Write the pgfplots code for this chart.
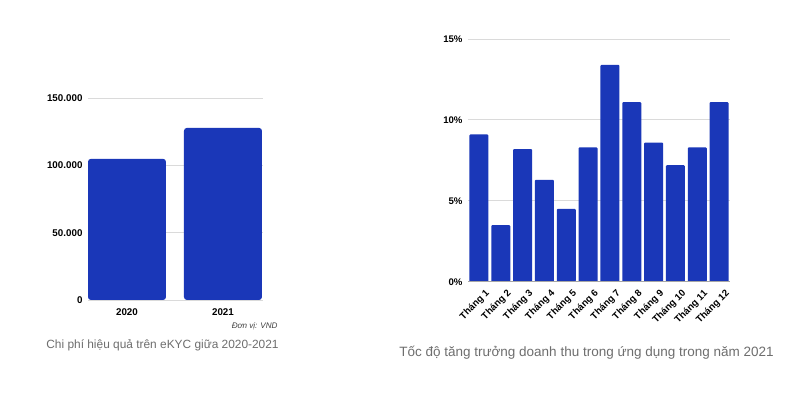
\documentclass[border=0pt]{standalone}
\usepackage{pgfplots}
\pgfplotsset{compat=1.18}
\usepackage{fontspec}
\setmainfont{Liberation Sans}
\definecolor{barblue}{HTML}{1A37B8}
\definecolor{gridgray}{HTML}{DADADA}
\definecolor{capgray}{HTML}{6E6E6E}
\begin{document}
\begin{tikzpicture}
\useasboundingbox (0pt,0pt) rectangle (810pt,398pt);
\fill[white] (0pt,0pt) rectangle (810pt,398pt);
% left chart
\begin{axis}[
  at={(88pt,98pt)}, anchor=south west,
  scale only axis, width=175pt, height=201.7pt,
  xmin=-0.406, xmax=1.417, ymin=0, ymax=150000,
  xtick={0,1}, xticklabels={2020,2021},
  ytick={0,50000,100000,150000},
  yticklabels={0,50.000,100.000,150.000},
  ymajorgrids, grid style={gridgray, line width=0.8pt},
  axis line style={draw=none}, major tick length=0pt,
  tick label style={font=\fontsize{9.8}{11}\selectfont\bfseries, text=black},
  yticklabel style={xshift=-2pt},
  xticklabel style={yshift=-5.5pt},
  scaled y ticks=false,
]
\addplot[ybar, bar width=78pt, fill=barblue, draw=none, rounded corners=3pt] coordinates {(0,105000) (1,128000)};
\draw[gray, line width=0.8pt] (axis cs:-0.406,0) -- (axis cs:1.417,0);
\end{axis}
\node[anchor=east, font=\fontsize{8.1}{9}\selectfont\itshape, text=black!75] at (281pt,72pt) {Đơn vị: VND};
\node[font=\fontsize{11.9}{13}\selectfont, text=capgray] at (162.5pt,53pt) {Chi phí hiệu quả trên eKYC giữa 2020-2021};
% right chart
\begin{axis}[
  at={(468pt,116.3pt)}, anchor=south west,
  scale only axis, width=262pt, height=242.7pt,
  xmin=0.5, xmax=12.5, ymin=0, ymax=15,
  xtick={1,...,12},
  xticklabels={Tháng 1,Tháng 2,Tháng 3,Tháng 4,Tháng 5,Tháng 6,Tháng 7,Tháng 8,Tháng 9,Tháng 10,Tháng 11,Tháng 12},
  ytick={0,5,10,15}, yticklabels={0\%,5\%,10\%,15\%},
  ymajorgrids, grid style={gridgray, line width=0.8pt},
  axis line style={draw=none}, major tick length=0pt,
  tick label style={font=\fontsize{9.6}{11}\selectfont\bfseries, text=black},
  yticklabel style={xshift=-2pt},
  xticklabel style={rotate=45, anchor=north east, inner sep=1pt, xshift=0pt, yshift=-8pt},
]
\addplot[ybar, bar width=19pt, fill=barblue, draw=none, rounded corners=1pt] coordinates {
(1,9.1) (2,3.5) (3,8.2) (4,6.3) (5,4.5) (6,8.3) (7,13.4) (8,11.1) (9,8.6) (10,7.2) (11,8.3) (12,11.1)};
\draw[gray!70, line width=0.8pt] (axis cs:0.5,0) -- (axis cs:12.5,0);
\end{axis}
\node[font=\fontsize{13.5}{15}\selectfont, text=capgray] at (586.5pt,45pt) {Tốc độ tăng trưởng doanh thu trong ứng dụng trong năm 2021};
\end{tikzpicture}
\end{document}
